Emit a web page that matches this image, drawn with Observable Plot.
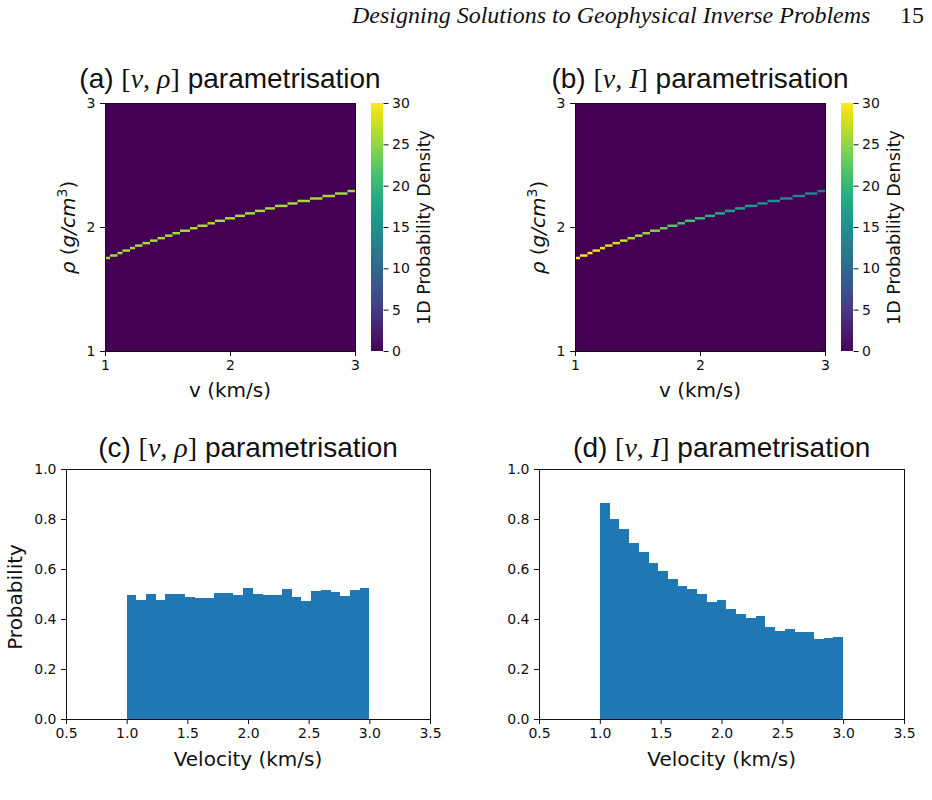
<!DOCTYPE html>
<html>
<head>
<meta charset="utf-8">
<script src="https://cdn.jsdelivr.net/npm/d3@7"></script>
<script src="https://cdn.jsdelivr.net/npm/@observablehq/plot@0.6"></script>
<style>
  body { margin: 0; background: #fff; }
  #fig { position: relative; width: 932px; height: 800px; overflow: hidden; background: #fff; }
  .panel { position: absolute; }
  #overlay { position: absolute; left: 0; top: 0; pointer-events: none; }
  #overlay text { white-space: pre; }
</style>
</head>
<body>
<div id="fig"></div>
<script>
// ---- density ridge of the 2D panels (a), (b) ----
// rows of the rho grid (lower edge, g/cm^3) crossed by the ridge
const rhoRows = [1.74, 1.76, 1.78, 1.80, 1.82, 1.84, 1.86, 1.88, 1.90, 1.92,
                 1.94, 1.96, 1.98, 2.00, 2.02, 2.04, 2.06, 2.08, 2.10, 2.12,
                 2.14, 2.16, 2.18, 2.20, 2.22, 2.24, 2.26, 2.28];
// velocity (km/s) at which the ridge enters each of those rows
const ridgeStartV = [1.00, 1.04, 1.10, 1.14, 1.20, 1.24, 1.30, 1.36, 1.42, 1.48,
                     1.54, 1.60, 1.68, 1.74, 1.82, 1.88, 1.96, 2.04, 2.12, 2.20,
                     2.28, 2.36, 2.46, 2.54, 2.64, 2.74, 2.84, 2.94];
// 1D probability density along the ridge
const densityVRho = [26, 26, 26, 26, 26, 26, 26, 26, 26, 26,
                     26, 26, 26, 26, 26, 26, 26, 26, 26, 26,
                     26, 26, 26, 26, 26, 26, 26, 26];
const densityVI   = [30, 30, 30, 29, 29, 28, 28, 27, 26, 26,
                     25, 24, 23, 22, 21, 21, 20, 19, 18, 17,
                     17, 16, 15, 15, 14, 13, 13, 12];

// ---- velocity histograms (c), (d) ----
const binStart = [1.00, 1.08, 1.16, 1.24, 1.32, 1.40, 1.48, 1.56, 1.64, 1.72,
                  1.80, 1.88, 1.96, 2.04, 2.12, 2.20, 2.28, 2.36, 2.44, 2.52,
                  2.60, 2.68, 2.76, 2.84, 2.92];
const probVRho = [0.497, 0.477, 0.499, 0.477, 0.501, 0.499, 0.488, 0.484, 0.484, 0.503,
                  0.504, 0.495, 0.524, 0.500, 0.497, 0.495, 0.520, 0.487, 0.473, 0.513,
                  0.515, 0.507, 0.491, 0.516, 0.523];
const probVI   = [0.864, 0.801, 0.760, 0.704, 0.669, 0.624, 0.591, 0.561, 0.531, 0.520,
                  0.501, 0.467, 0.475, 0.439, 0.421, 0.405, 0.412, 0.369, 0.351, 0.359,
                  0.348, 0.348, 0.320, 0.324, 0.329];

// ---- ticks ----
const gridTicks = [1, 2, 3];
const densityTicks = [0, 5, 10, 15, 20, 25, 30];
const velocityTicks = [0.5, 1.0, 1.5, 2.0, 2.5, 3.0, 3.5];
const probTicks = [0, 0.2, 0.4, 0.6, 0.8, 1.0];

const CELL = 0.02;       // grid cell size (km/s and g/cm^3)
const BIN = 0.08;        // histogram bin width (km/s)
const densityMax = 30;

const fig = document.getElementById("fig");
const colorScale = {type: "linear", scheme: "viridis", domain: [0, densityMax], clamp: true};
const baseStyle = {fontFamily: "DejaVu Sans, sans-serif", fontSize: "14px", color: "#111",
                   background: "transparent", overflow: "visible"};

function place(node, left, top) {
  const div = document.createElement("div");
  div.className = "panel";
  div.style.left = left + "px";
  div.style.top = top + "px";
  div.appendChild(node);
  fig.appendChild(div);
}

function densityMap(density) {
  const cells = rhoRows.map((r, i) => ({
    v0: ridgeStartV[i],
    v1: i + 1 < ridgeStartV.length ? ridgeStartV[i + 1] : 3,
    r0: r,
    r1: r + CELL,
    d: density[i]
  }));
  return Plot.plot({
    width: 365, height: 300,
    marginLeft: 105, marginRight: 10, marginTop: 13, marginBottom: 39,
    x: {domain: [1, 3], ticks: gridTicks, tickFormat: "d", tickSize: 5, tickPadding: 4, label: null},
    y: {domain: [1, 3], ticks: gridTicks, tickFormat: "d", tickSize: 5, tickPadding: 5, label: null},
    color: colorScale,
    style: baseStyle,
    marks: [
      Plot.rect([{d: 0}], {fill: "d"}),
      Plot.rect(cells, {x1: "v0", x2: "v1", y1: "r0", y2: "r1", fill: "d", inset: 0}),
      Plot.frame({stroke: "#111"})
    ]
  });
}

function colorBar() {
  const stripes = d3.range(0, densityMax, 0.25).map(a => ({a, b: a + 0.25, m: a + 0.125}));
  return Plot.plot({
    width: 70, height: 300,
    marginLeft: 11, marginRight: 47.5, marginTop: 13, marginBottom: 39,
    x: {axis: null, domain: [0, 1]},
    y: {domain: [0, densityMax], ticks: densityTicks, axis: "right", tickSize: 5, tickPadding: 4, label: null},
    color: colorScale,
    style: baseStyle,
    marks: [
      Plot.rect(stripes, {y1: "a", y2: "b", fill: "m", inset: 0, shapeRendering: "crispEdges"})
    ]
  });
}

function histogram(prob, marginLeft, width) {
  const bins = binStart.map((x, i) => ({x0: x, x1: x + BIN, p: prob[i]}));
  return Plot.plot({
    width, height: 310,
    marginLeft, marginRight: 15, marginTop: 29, marginBottom: 31,
    x: {domain: [0.5, 3.5], ticks: velocityTicks, tickFormat: ".1f", tickSize: 5, tickPadding: 4, label: null},
    y: {domain: [0, 1], ticks: probTicks, tickFormat: ".1f", tickSize: 5, tickPadding: 5, label: null},
    style: baseStyle,
    marks: [
      Plot.rectY(bins, {x1: "x0", x2: "x1", y: "p", fill: "#1f77b4", inset: 0, shapeRendering: "crispEdges"}),
      Plot.frame({stroke: "#111"})
    ]
  });
}

place(densityMap(densityVRho), 0, 90);
place(colorBar(), 360, 90);
place(densityMap(densityVI), 470, 90);
place(colorBar(), 830, 90);
place(histogram(probVRho, 66, 445), 0, 440);
place(histogram(probVI, 69, 449), 470, 440);

// ---- titles, axis labels and running head ----
const overlay = d3.select(fig).append("svg")
  .attr("id", "overlay").attr("width", 932).attr("height", 800);

const SANS = "DejaVu Sans, sans-serif";
const TITLE = "Liberation Sans, Arial, sans-serif";
const SERIF = "Liberation Serif, Times New Roman, serif";

function label(x, y, parts, {size = 20, family = SANS, anchor = "middle", rotate = 0, style = null} = {}) {
  const t = overlay.append("text")
    .attr("transform", `translate(${x},${y}) rotate(${rotate})`)
    .attr("text-anchor", anchor)
    .attr("font-family", family)
    .attr("font-size", size)
    .attr("fill", "#111");
  if (style) t.attr("font-style", style);
  for (const p of parts) {
    const s = typeof p === "string" ? {text: p} : p;
    const ts = t.append("tspan").text(s.text);
    if (s.family) ts.attr("font-family", s.family);
    if (s.style) ts.attr("font-style", s.style);
    if (s.size) ts.attr("font-size", s.size);
    if (s.dy) ts.attr("dy", s.dy);
  }
}

function title(x, y, tag, second) {
  label(x, y, [
    `(${tag}) `,
    {text: "[", family: SERIF},
    {text: "v", family: SERIF, style: "italic"},
    {text: ", ", family: SERIF},
    {text: second, family: SERIF, style: "italic"},
    {text: "]", family: SERIF},
    " parametrisation"
  ], {size: 28, family: TITLE});
}

title(230, 88, "a", "ρ");
title(700, 88, "b", "I");
title(248, 457, "c", "ρ");
title(721.7, 457, "d", "I");

// x-axis labels
label(230, 397, ["v (km/s)"]);
label(700, 397, ["v (km/s)"]);
label(248, 766, ["Velocity (km/s)"]);
label(721.7, 766, ["Velocity (km/s)"]);

// y-axis labels
const rhoLabel = [
  {text: "ρ", style: "italic"}, " (",
  {text: "g/cm", style: "italic"},
  {text: "3", size: 14, dy: "-8"},
  {text: ")", dy: "8"}
];
label(74.5, 227.5, rhoLabel, {rotate: -90});
label(544.5, 227.5, rhoLabel, {rotate: -90});
label(22, 597, ["Probability"], {rotate: -90});

// colour bar labels
label(429.5, 227.5, ["1D Probability Density"], {size: 17.5, rotate: -90});
label(899.5, 227.5, ["1D Probability Density"], {size: 17.5, rotate: -90});

// running head
label(352, 23, ["Designing Solutions to Geophysical Inverse Problems"],
      {size: 24, family: SERIF, anchor: "start", style: "italic"});
label(924, 23, ["15"], {size: 24, family: SERIF, anchor: "end"});
</script>
</body>
</html>
